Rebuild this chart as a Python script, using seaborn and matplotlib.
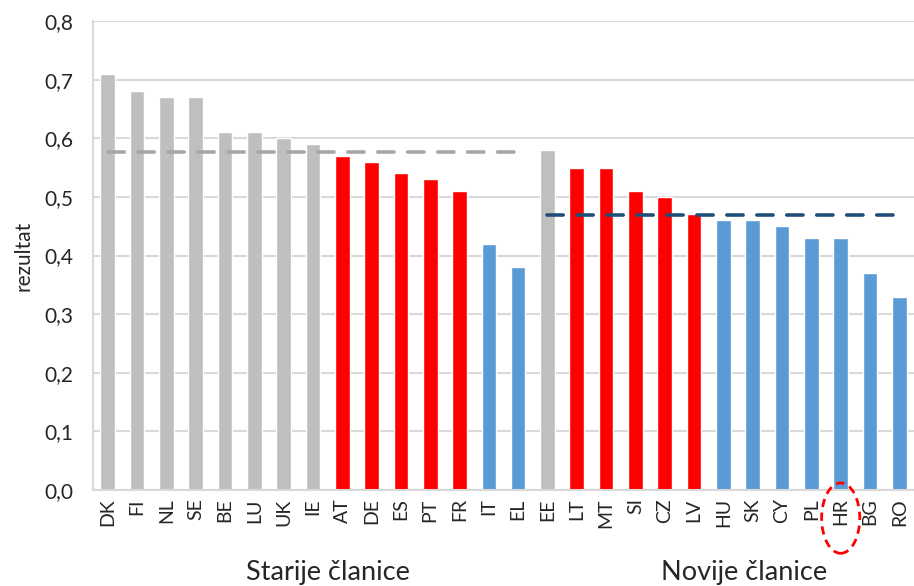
import numpy as np
import pandas as pd
import matplotlib
matplotlib.use('Agg')
import matplotlib.pyplot as plt
import matplotlib.transforms as mtransforms
from matplotlib.patches import Ellipse
import seaborn as sns

# Data
countries = ['DK', 'FI', 'NL', 'SE', 'BE', 'LU', 'UK', 'IE', 'AT', 'DE', 'ES', 'PT', 'FR', 'IT',
             'EL', 'EE', 'LT', 'MT', 'SI', 'CZ', 'LV', 'HU', 'SK', 'CY', 'PL', 'HR', 'BG', 'RO']
scores = [0.71, 0.68, 0.67, 0.67, 0.61, 0.61, 0.60, 0.59, 0.57, 0.56, 0.54, 0.53, 0.51, 0.42,
          0.38, 0.58, 0.55, 0.55, 0.51, 0.50, 0.47, 0.46, 0.46, 0.45, 0.43, 0.43, 0.37, 0.33]
groups = ['gray'] * 8 + ['red'] * 5 + ['blue'] * 2 + ['gray'] + ['red'] * 5 + ['blue'] * 7
old_avg = 0.577
new_avg = 0.469
group_labels = ['Starije članice', 'Novije članice']

color_map = {'gray': '#BFBFBF', 'red': '#FF0000', 'blue': '#5B9BD5'}

df = pd.DataFrame({'country': countries, 'score': scores, 'group': groups})

sns.set_style('white')
plt.rcParams['font.family'] = ['Lato', 'DejaVu Sans']

fig = plt.figure(figsize=(9.14, 5.86), dpi=100)
ax = fig.add_axes([93 / 914, 96 / 586, 1 - 93 / 914, 469 / 586])

sns.barplot(data=df, x='country', y='score', hue='country',
            palette=[color_map[g] for g in groups], legend=False,
            width=0.5, ax=ax, saturation=1)

ax.set_xlim(-0.5, len(countries) - 0.5)
ax.set_ylim(0, 0.8)
ax.set_yticks(np.arange(0, 0.81, 0.1))
ax.set_yticklabels([f'{v:.1f}'.replace('.', ',') for v in np.arange(0, 0.81, 0.1)], fontsize=15)
ax.yaxis.grid(True, color='#D9D9D9', linewidth=1.5)
ax.set_axisbelow(True)
ax.tick_params(axis='x', labelrotation=90, labelsize=14, length=0, pad=6)
ax.tick_params(axis='y', length=0, pad=14)
ax.set_xlabel('')
ax.set_ylabel('rezultat', fontsize=15, labelpad=8)

for side in ['top', 'right']:
    ax.spines[side].set_visible(False)
ax.spines['left'].set_color('#D9D9D9')
ax.spines['bottom'].set_color('#D9D9D9')
ax.spines['left'].set_linewidth(1.5)
ax.spines['bottom'].set_linewidth(1.5)

# Average lines
n_old = 15
ax.hlines(old_avg, 0, n_old - 0.85, colors='#A6A6A6', linestyles=(0, (4.5, 3.8)),
          linewidth=2.6, capstyle='round')
ax.hlines(new_avg, n_old, len(countries) - 0.85, colors='#1F4E79', linestyles=(0, (4.5, 3.8)),
          linewidth=2.6, capstyle='round')

# Highlight HR
trans = mtransforms.blended_transform_factory(ax.transData, ax.transAxes)
hr = countries.index('HR')
ax.add_patch(Ellipse((hr, -0.06), 1.3, 0.15, transform=trans, fill=False,
                     edgecolor='#FF0000', linestyle=(0, (3, 2)), linewidth=2,
                     clip_on=False, zorder=5))

# Group labels
ax.text(7.5, -0.175, group_labels[0], transform=trans, ha='center', va='center', fontsize=19.5)
ax.text(21.7, -0.175, group_labels[1], transform=trans, ha='center', va='center', fontsize=19.5)

fig.savefig('out.png', dpi=100)
